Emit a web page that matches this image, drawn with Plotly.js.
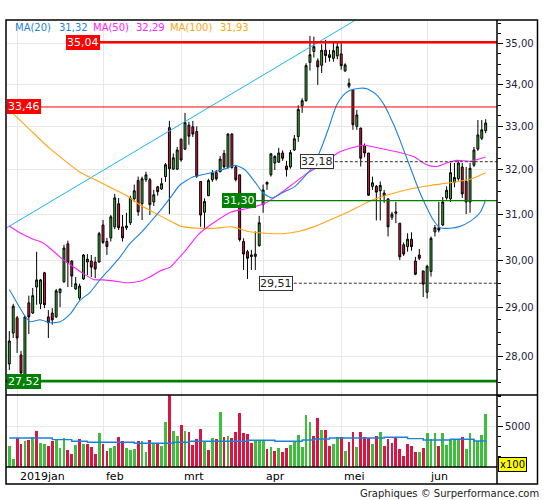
<!DOCTYPE html>
<html>
<head>
<meta charset="utf-8">
<script src="https://cdn.plot.ly/plotly-3.0.1.min.js"></script>
<style>html,body{margin:0;padding:0;background:#fff;}#chart{width:545px;height:500px;}</style>
</head>
<body>
<div id="chart"></div>
<script>
// ---------- DATA ----------
// trading-day index 0..122 (28 Dec 2018 .. ~24 Jun 2019)
const openP = [27.86,28.48,28.79,28.04,27.61,29.10,28.89,29.43,29.08,29.73,
28.81,28.89,28.81,29.31,29.54,30.35,29.98,29.39,29.20,29.60,
29.96,29.98,29.96,29.96,30.76,30.40,30.48,30.72,31.23,30.72,
30.70,30.81,31.34,31.75,31.23,31.77,31.77,31.27,31.61,31.56,
31.84,32.97,32.01,32.01,32.70,32.47,33.03,32.99,32.88,31.73,
31.04,31.41,31.77,31.93,31.95,32.37,32.05,32.82,32.06,31.88,
30.40,30.18,30.11,30.08,30.31,31.21,31.71,31.88,32.15,32.17,
32.38,32.08,32.06,32.45,32.76,33.49,33.61,34.54,34.81,34.58,
34.47,34.84,34.73,34.64,34.70,34.75,34.33,33.96,33.88,33.00,
32.96,32.55,32.38,31.62,31.62,31.52,31.41,31.34,30.93,31.05,
30.80,30.33,30.29,30.45,29.98,30.11,29.77,29.32,29.76,30.61,
30.70,30.76,31.36,31.34,31.71,31.79,32.06,31.73,31.27,32.10,
32.47,32.72,32.90];
const highP = [28.52,29.08,28.83,28.12,28.83,29.25,29.41,30.18,29.60,29.75,
28.95,28.99,29.39,29.39,30.33,30.42,30.00,29.64,29.50,30.13,
30.13,30.11,30.07,30.61,30.87,30.48,30.98,31.45,31.36,30.98,
31.03,31.41,31.66,31.84,31.84,31.95,31.81,31.54,31.63,31.81,
32.15,33.13,32.37,32.52,32.72,33.32,33.11,33.13,33.00,31.73,
31.35,31.79,31.99,31.99,32.31,32.45,32.84,32.84,32.10,31.88,
30.47,30.22,30.22,30.62,30.96,31.66,31.73,32.38,32.33,32.50,
32.44,32.20,32.45,32.80,33.50,33.67,34.52,35.20,35.18,34.64,
34.99,35.10,34.85,35.02,35.02,35.02,34.52,34.15,33.89,33.39,
32.97,32.60,32.38,31.84,31.65,31.73,31.54,31.34,31.05,31.27,
30.80,30.38,30.58,30.60,30.07,30.24,29.77,29.90,30.51,30.76,
31.27,31.38,31.62,32.15,32.15,32.19,32.15,32.06,32.15,32.52,
33.15,33.15,33.17];
const lowP = [27.74,28.38,28.08,27.52,27.55,28.46,28.87,29.06,28.97,28.99,
28.38,28.65,28.79,29.01,29.52,29.43,29.43,29.37,29.16,29.58,
29.68,29.64,29.62,29.94,30.35,30.11,30.40,30.67,30.65,30.40,
30.65,30.76,31.27,30.96,30.87,31.72,30.98,31.18,31.41,31.54,
31.72,31.00,31.99,31.99,32.18,32.45,32.57,32.75,31.81,30.72,
30.69,31.40,31.72,31.75,31.94,32.02,32.02,32.02,31.73,30.40,
29.79,29.60,29.79,29.79,30.29,31.03,31.54,31.84,31.99,32.15,
32.20,31.84,32.02,32.43,32.64,33.32,33.59,34.34,34.66,33.99,
34.28,34.53,34.56,34.56,34.62,34.36,34.31,33.91,32.92,32.92,
32.07,32.28,31.41,31.54,30.86,30.86,31.25,30.51,30.87,30.80,
30.00,30.09,30.18,30.20,29.68,30.00,29.22,29.19,29.65,30.51,
30.60,30.74,31.32,31.27,31.60,31.75,31.36,31.00,31.03,32.06,
32.43,32.68,32.84];
const closeP = [28.32,29.03,28.38,27.68,28.81,28.81,29.25,29.58,29.58,29.06,
28.69,28.75,29.35,29.39,30.26,29.94,29.66,29.50,29.45,30.11,
30.02,29.85,29.81,30.57,30.38,30.29,30.94,31.36,30.70,30.48,
30.74,31.36,31.52,31.05,31.79,31.88,31.21,31.43,31.50,31.68,
32.11,32.02,32.27,32.45,32.22,33.09,32.77,32.82,31.85,30.98,
31.28,31.75,31.92,31.79,32.24,32.06,32.82,32.05,31.77,30.44,
30.13,30.04,30.08,30.13,30.81,31.54,31.67,32.36,32.30,32.38,
32.26,32.00,32.39,32.71,33.40,33.61,34.46,34.73,34.93,34.43,
34.84,34.71,34.66,34.83,34.93,34.46,34.48,34.03,33.04,33.27,
32.26,32.38,31.42,31.70,31.49,31.64,31.47,30.72,31.00,31.02,
30.07,30.13,30.45,30.29,29.70,30.04,29.49,29.87,30.47,30.70,
30.65,31.27,31.53,31.93,31.82,32.15,31.45,31.27,32.03,32.45,
32.80,32.92,33.08];
const volume = [3085,1765,3811,3250,3547,3679,3943,4537,3349,3250,
3085,3547,3613,2887,3844,2689,2260,3184,3745,3250,
3250,2920,2260,4339,3250,2557,2821,3019,3943,3547,
2854,2689,2755,3547,3547,2458,3646,3316,3250,3052,
5428,8050,4537,4042,5131,4537,4438,3184,3778,4735,
3448,2656,3844,3778,6418,3943,4042,3844,4438,6319,
4339,4207,3349,3547,3547,3547,2755,2953,2557,2854,
2458,2854,3151,3448,4141,2986,6121,5428,4042,5824,
4636,4636,3052,3250,3943,3943,2557,3448,4438,2953,
4438,3943,3844,3250,4042,4438,3052,3745,3349,3844,
2755,2062,3250,3052,2458,2458,2854,4339,3745,4339,
3085,4339,3151,3745,3679,3745,3943,2755,4339,3745,
3547,4141,6220];
// 1 = up day bar, -1 = down day bar (as coloured in the volume panel)
const volDir = [1,1,-1,-1,1,-1,1,-1,1,1,
-1,-1,1,1,1,-1,-1,1,-1,1,
-1,-1,-1,1,-1,-1,1,1,-1,-1,
1,1,1,-1,1,1,-1,1,-1,1,
1,-1,1,1,-1,1,-1,-1,-1,-1,
1,-1,1,-1,1,-1,1,-1,-1,-1,
-1,-1,-1,1,1,1,-1,1,-1,1,
-1,-1,1,1,1,1,1,1,-1,-1,
1,-1,-1,1,1,-1,1,-1,-1,1,
-1,-1,-1,1,-1,1,-1,-1,-1,-1,
-1,-1,-1,-1,-1,1,-1,1,1,1,
-1,1,1,1,1,1,-1,1,1,1,
1,1,1];
const volMA = [3844,3844,3844,3844,3844,3844,3844,3844,3844,3844,3844,
3679,3679,3679,3679,3679,
3514,3514,3514,3514,
3415,3415,3415,3415,3415,3415,3415,3415,3415,3415,3415,3415,
3316,3316,3316,3316,3316,3316,3316,3316,3316,3316,
3415,3415,3415,3415,
3514,3514,3514,3514,3514,3514,3514,3514,3514,3514,3514,3514,3514,3514,3514,
3613,3613,3613,3613,3613,3613,3613,
3514,3514,3514,3514,3514,3514,3514,
3646,3646,3646,
3745,3745,3745,3745,
3844,3844,3844,3844,3844,3844,3844,3844,3844,3844,3844,3844,3844,3844,
3910,3910,3910,3910,3910,3910,
3778,3778,3778,3778,
3646,3646,3646,3646,3646,3646,3646,
3712,3712,3712,3712,3712,3712,
3547,3547,3547,
3613];

// moving averages (sampled along the drawn curves)
const ma20X = [0,4,5.3,7.9,10.4,13,15.5,18.1,20.7,23.2,25.8,28.4,30.9,33.5,36,38.6,41.2,43.7,47,51.4,55.7,57.8,60.4,62.9,65,67.3,69.8,73.2,75.7,77.8,80,81.7,83.8,85.5,87.3,89.8,91.6,94.2,96.2,97.5,98.8,100,102.6,105.2,107,108.5,110.3,112.9,115.4,118,120.6,122];
const ma20Y = [29.38,28.83,28.71,28.75,28.69,28.71,28.86,29.15,29.32,29.58,29.82,30.07,30.36,30.57,30.81,31.07,31.36,31.65,31.83,31.92,32.03,32.10,31.99,31.72,31.47,31.36,31.47,31.62,31.85,32.07,32.52,32.94,33.50,33.74,33.86,33.91,33.90,33.74,33.48,33.23,32.97,32.69,32.07,31.47,31.13,30.88,30.70,30.69,30.73,30.84,31.04,31.32];
const ma50X = [0,2.7,6.1,8.7,11.3,13.8,16.4,19,21.5,24.1,26.6,30.1,33.5,36,38.6,41.2,42.9,45,48.4,52.7,57,61.2,65.5,68.9,72.3,75.7,79.1,82.1,84.7,87.3,90.7,94.9,99.2,103.5,106.9,109.5,112,114.6,118,122];
const ma50Y = [30.74,30.59,30.45,30.37,30.19,30.01,29.86,29.71,29.59,29.58,29.56,29.52,29.55,29.64,29.77,29.85,30.00,30.19,30.55,30.83,31.05,31.13,31.24,31.43,31.65,31.88,32.07,32.26,32.41,32.49,32.56,32.49,32.41,32.30,32.11,32.07,32.15,32.21,32.19,32.29];
const ma100X = [0,1,5.3,10.4,14.7,18.1,21.5,25.8,30.1,33.5,36.9,41.2,44.1,48.4,52.7,57,61.2,65.5,69.8,74,78.3,82.1,87.3,92.4,97.5,102.6,107.7,112.9,118,122];
const ma100Y = [33.39,33.30,32.92,32.48,32.17,31.94,31.79,31.60,31.41,31.20,31.04,30.85,30.73,30.69,30.69,30.72,30.62,30.58,30.57,30.62,30.73,30.87,31.07,31.29,31.44,31.56,31.64,31.70,31.78,31.93];

// trend line (two read points)
const trendX = [-0.85, 88.7];
const trendY = [30.69, 35.60];

// horizontal levels
const levelVals   = [35.04, 33.46, 31.30, 27.52, 32.18, 29.51];
const levelLabels = ['35,04','33,46','31,30','27,52','32,18','29,51'];

// legend
const maNames  = ['MA(20)','MA(50)','MA(100)'];
const maValues = ['31,32','32,29','31,93'];

// axes
const monthIdx    = [2, 24, 44, 65, 85, 107];
const monthLabels = ['2019jan','feb','mrt','apr','mei','jun'];
const priceTicks    = [28,29,30,31,32,33,34,35];
const priceTickText = ['28,00','29,00','30,00','31,00','32,00','33,00','34,00','35,00'];
const priceMinor = [27.25,27.5,27.75,28.25,28.5,28.75,29.25,29.5,29.75,30.25,30.5,30.75,31.25,31.5,31.75,32.25,32.5,32.75,33.25,33.5,33.75,34.25,34.5,34.75,35.25,35.5];
const volTicks = [5000];
const volTickText = ['5000'];
const volMinor = [2000,3000,4000,6000,7000,8000];

// ---------- CHART ----------
const W = 545, H = 500;
const fx = p => p / W;           // pixel -> paper x
const fy = p => 1 - p / H;       // pixel -> paper y
const idx = volume.map((_, i) => i);
const XR = [-0.845, 124.9];
const FONT = 'DejaVu Sans, Verdana, sans-serif';

const GREEN = '#35b935', RED = '#dc1443';
const C20 = '#1e82dc', C50 = '#ff22ff', C100 = '#ffa514';

const traces = [];
traces.push({type:'scatter', mode:'lines', x:trendX, y:trendY, line:{color:'#18b4f8', width:1}, hoverinfo:'skip'});
traces.push({type:'scatter', mode:'lines', x:ma100X, y:ma100Y, line:{color:C100, width:1.1, shape:'spline', smoothing:0.6}, hoverinfo:'skip'});
traces.push({type:'scatter', mode:'lines', x:ma50X, y:ma50Y, line:{color:C50, width:1.1, shape:'spline', smoothing:0.6}, hoverinfo:'skip'});
traces.push({type:'scatter', mode:'lines', x:ma20X, y:ma20Y, line:{color:C20, width:1.1, shape:'spline', smoothing:0.6}, hoverinfo:'skip'});

// level lines: [start index, colour, width, dash]
const levelStyle = [
  [14.5, '#ff0000', 2.6, 'solid'],
  [-0.85, '#ff0000', 1, 'solid'],
  [54.5, '#008000', 1.2, 'solid'],
  [-0.85, '#008000', 2.8, 'solid'],
  [74.4, '#333333', 1, 'dash'],
  [63.9, '#333333', 1, 'dash']
];
levelVals.forEach((v, i) => {
  const s = levelStyle[i];
  traces.push({type:'scatter', mode:'lines', x:[s[0], XR[1]], y:[v, v],
    line:{color:s[1], width:s[2], dash:s[3] === 'dash' ? '3px,2px' : 'solid'}, hoverinfo:'skip'});
});

traces.push({type:'candlestick', x:idx, open:openP, high:highP, low:lowP, close:closeP,
  increasing:{line:{color:'#000', width:1}, fillcolor:GREEN},
  decreasing:{line:{color:'#000', width:1}, fillcolor:RED},
  whiskerwidth:0, hoverinfo:'skip'});

traces.push({type:'bar', x:idx, y:volume, xaxis:'x2', yaxis:'y2', width:0.72,
  marker:{color:volDir.map(d => d > 0 ? '#3cc03c' : RED), line:{width:0}}, hoverinfo:'skip'});
traces.push({type:'scatter', mode:'lines', x:idx, y:volMA, xaxis:'x2', yaxis:'y2',
  line:{color:'#1e7fd8', width:1.4, shape:'hv'}, hoverinfo:'skip'});

const annotations = [];
// legend
const legX = [13, 57, 91, 134, 168, 218];
const legC = [C20, C20, C50, C50, C100, C100];
[maNames[0], maValues[0], maNames[1], maValues[1], maNames[2], maValues[2]].forEach((t, i) => {
  annotations.push({xref:'paper', yref:'paper', x:fx(legX[i]), y:fy(27), xanchor:'left', yanchor:'middle',
    text:t, showarrow:false, font:{family:FONT, size:10, color:legC[i]}});
});
// level labels: [xref, x, bg, fg, border]
const lblPos = [
  ['x', 14.5, '#ff0000', '#ffffff', null],
  ['paper', fx(6.5), '#ff0000', '#ffffff', null],
  ['x', 54.5, '#008000', '#ffffff', null],
  ['paper', fx(6.5), '#008000', '#ffffff', null],
  ['x', 74.4, '#ffffff', '#222222', '#333333'],
  ['x', 63.9, '#ffffff', '#222222', '#333333']
];
levelLabels.forEach((t, i) => {
  const p = lblPos[i];
  annotations.push({xref:p[0], yref:'y', x:p[1], y:Math.log10(levelVals[i]), xanchor:'left', yanchor:'middle',
    text:t, showarrow:false, bgcolor:p[2], font:{family:FONT, size:11, color:p[3]},
    bordercolor:p[4] || p[2], borderwidth:p[4] ? 1 : 0, borderpad:p[4] ? 0 : 1});
});
// month labels
monthLabels.forEach((t, i) => {
  annotations.push({xref:'x2', yref:'paper', x:monthIdx[i], y:fy(476), xanchor:'left', yanchor:'middle', xshift:1,
    text:t, showarrow:false, font:{family:FONT, size:11, color:'#000'}});
});
annotations.push({xref:'paper', yref:'paper', x:fx(512), y:fy(464), xanchor:'center', yanchor:'middle',
  text:'x100', showarrow:false, bgcolor:'#ffff00', bordercolor:'#000', borderwidth:1, borderpad:1,
  font:{family:FONT, size:10, color:'#000'}});
annotations.push({xref:'paper', yref:'paper', x:fx(541), y:fy(493), xanchor:'right', yanchor:'middle',
  text:'Graphiques © Surperformance.com', showarrow:false, font:{family:FONT, size:10, color:'#222'}});

const shapes = [
  {type:'rect', xref:'paper', yref:'paper', x0:fx(6), x1:fx(537.5), y0:fy(484), y1:fy(20), line:{color:'#000', width:1.5}, fillcolor:'rgba(0,0,0,0)'},
  {type:'line', xref:'paper', yref:'paper', x0:fx(6), x1:fx(537.5), y0:fy(395), y1:fy(395), line:{color:'#000', width:1.5}},
  {type:'line', xref:'paper', yref:'paper', x0:fx(6), x1:fx(497), y0:fy(467), y1:fy(467), line:{color:'#000', width:1.5}},
  {type:'line', xref:'paper', yref:'paper', x0:fx(497), x1:fx(497), y0:fy(484), y1:fy(20), line:{color:'#000', width:1.5}}
];

const xdom = [fx(6), fx(497)];
const layout = {
  width:W, height:H, margin:{l:0, r:0, t:0, b:0},
  paper_bgcolor:'#ffffff', plot_bgcolor:'#ffffff', showlegend:false, separators:',.',
  font:{family:FONT, size:10, color:'#000'},
  xaxis:{domain:xdom, range:XR, anchor:'y', tickmode:'array', tickvals:monthIdx, showticklabels:false, ticks:'',
    showgrid:true, gridcolor:'#e8e8e8', gridwidth:1, zeroline:false, showline:false, rangeslider:{visible:false}, fixedrange:true},
  yaxis:{domain:[fy(395), fy(20)], type:'log', range:[Math.log10(27.25), Math.log10(35.60)], side:'right', anchor:'x',
    tickmode:'array', tickvals:priceTicks, ticktext:priceTickText, ticks:'outside', ticklen:5, tickwidth:1, tickcolor:'#000',
    tickfont:{family:FONT, size:10, color:'#1b1b3a'},
    showgrid:true, gridcolor:'#e8e8e8', gridwidth:1, zeroline:false, showline:false, fixedrange:true,
    minor:{tickmode:'array', tickvals:priceMinor, ticks:'outside', ticklen:3, tickwidth:1, tickcolor:'#000', showgrid:false}},
  xaxis2:{domain:xdom, range:XR, anchor:'y2', tickmode:'array', tickvals:monthIdx, showticklabels:false, ticks:'',
    showgrid:true, gridcolor:'#e8e8e8', gridwidth:1, zeroline:false, showline:false, fixedrange:true},
  yaxis2:{domain:[fy(467), fy(395)], range:[971, 8099], side:'right', anchor:'x2',
    tickmode:'array', tickvals:volTicks, ticktext:volTickText, ticks:'outside', ticklen:5, tickwidth:1, tickcolor:'#000',
    tickfont:{family:FONT, size:10, color:'#1b1b3a'},
    showgrid:true, gridcolor:'#e8e8e8', zeroline:false, showline:false, fixedrange:true,
    minor:{tickmode:'array', tickvals:volMinor, ticks:'outside', ticklen:3, tickwidth:1, tickcolor:'#000', showgrid:false}},
  bargap:0, annotations:annotations, shapes:shapes
};

Plotly.newPlot('chart', traces, layout, {staticPlot:true, displayModeBar:false});
</script>
</body>
</html>
